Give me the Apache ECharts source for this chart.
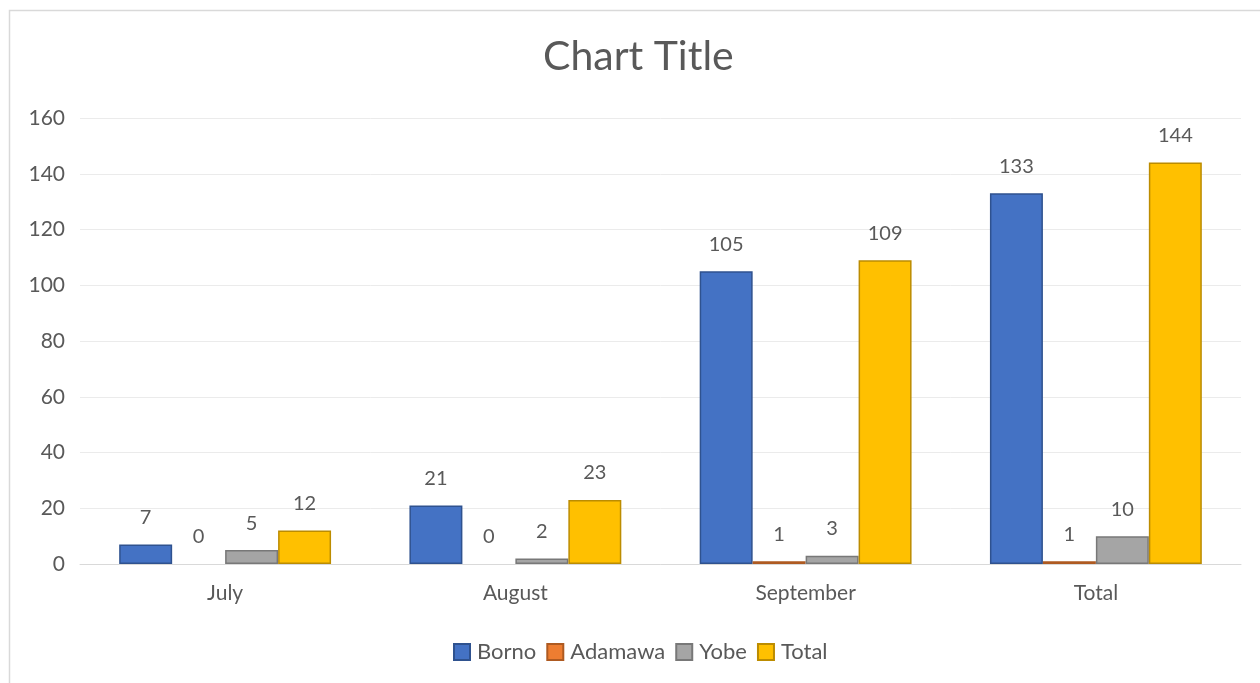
<!DOCTYPE html>
<html><head><meta charset="utf-8">
<script src="https://cdn.jsdelivr.net/npm/echarts@6/dist/echarts.min.js"></script>
<style>html,body{margin:0;padding:0;background:#fff}#c{width:1260px;height:683px}</style>
</head><body><div id="c"></div>
<script>
const categories = ['July', 'August', 'September', 'Total'];
const borno = [7, 21, 105, 133];
const adamawa = [0, 0, 1, 1];
const yobe = [5, 2, 3, 10];
const total = [12, 23, 109, 144];
const yTicks = [0, 20, 40, 60, 80, 100, 120, 140, 160];

const FONT = 'Lato, "Open Sans", sans-serif';
const seriesDefs = [
  {name: 'Borno', data: borno, color: '#4472C4', border: '#2F528F'},
  {name: 'Adamawa', data: adamawa, color: '#ED7D31', border: '#AE5A21'},
  {name: 'Yobe', data: yobe, color: '#A5A5A5', border: '#787878'},
  {name: 'Total', data: total, color: '#FFC000', border: '#BC8C00'}
];
const chart = echarts.init(document.getElementById('c'), null, {renderer: 'canvas'});
chart.setOption({
  animation: false,
  graphic: [{type: 'rect', shape: {x: 9.5, y: 10.5, width: 1400, height: 800},
    style: {fill: 'none', stroke: '#d9d9d9', lineWidth: 1.5}}],
  title: {text: 'Chart Title', left: 538, top: 31,
    textStyle: {fontFamily: FONT, fontSize: 41, fontWeight: 'normal', color: '#595959'}},
  legend: {bottom: 15, left: 448, itemWidth: 16, itemHeight: 16, itemGap: 10,
    icon: 'rect',
    textStyle: {fontFamily: FONT, fontSize: 22, color: '#595959', padding: [0, 0, 0, 2]},
    data: seriesDefs.map(s => s.name)},
  grid: {left: 80, right: 19, top: 118, bottom: 119, containLabel: false},
  xAxis: {type: 'category', data: categories,
    axisLine: {lineStyle: {color: '#d9d9d9', width: 1}}, axisTick: {show: false},
    axisLabel: {fontFamily: FONT, fontSize: 21, color: '#595959', margin: 19}},
  yAxis: {type: 'value', min: yTicks[0], max: yTicks[yTicks.length - 1], interval: 20,
    axisLine: {show: false}, axisTick: {show: false},
    splitLine: {lineStyle: {color: '#ebebeb', width: 1}},
    axisLabel: {fontFamily: FONT, fontSize: 21, color: '#595959', margin: 15}},
  series: seriesDefs.map(s => ({
    name: s.name, type: 'bar', barGap: '0%', barCategoryGap: '27%',
    data: s.data.map(v => v === 0 ? {value: v, itemStyle: {borderWidth: 0, opacity: 0}} : v),
    itemStyle: {color: s.color, borderColor: s.border, borderWidth: 1.5},
    label: {show: true, position: 'top', distance: 17, opacity: 1,
      fontFamily: FONT, fontSize: 20, color: '#595959'}
  }))
});
</script></body></html>
